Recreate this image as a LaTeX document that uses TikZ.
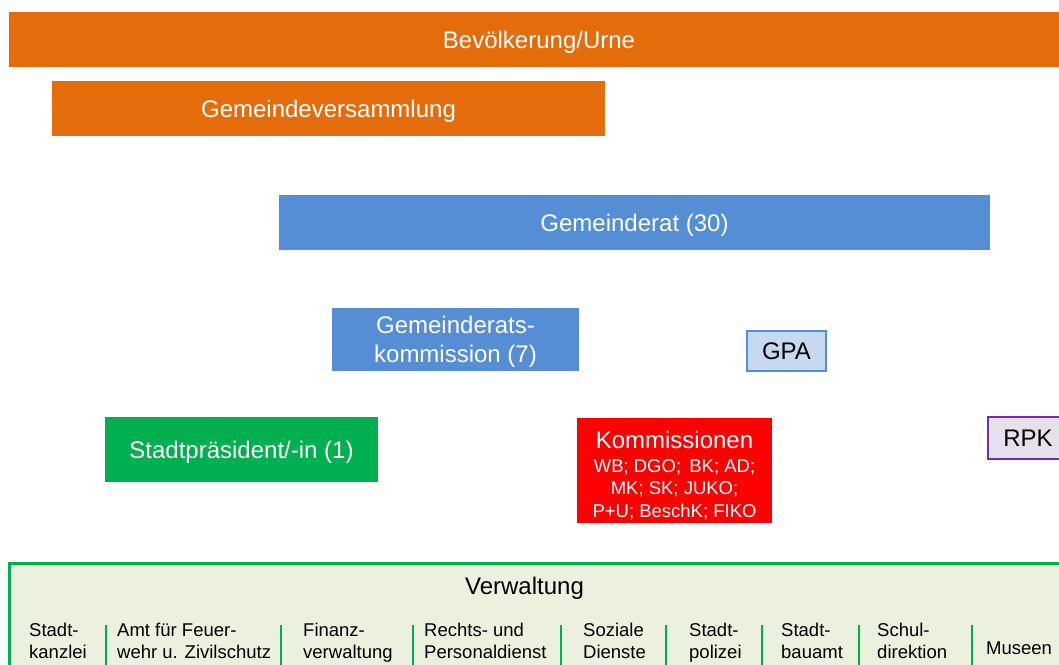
\documentclass[tikz,border=0pt]{standalone}
\usepackage{fontspec}
\setmainfont{Liberation Sans}
\definecolor{orangebox}{HTML}{E46C0A}
\definecolor{bluebox}{HTML}{558ED5}
\definecolor{lightblue}{HTML}{C6D9F1}
\definecolor{greenbox}{HTML}{00B050}
\definecolor{lightgreen}{HTML}{EBF1DE}
\definecolor{lightpurple}{HTML}{E6E0EC}
\definecolor{purpleline}{HTML}{7030A0}
\tikzset{
  organ/.style={rectangle,inner sep=0pt,align=center,text=white,text depth=0pt,
    font=\fontsize{24}{29}\selectfont},
  dept/.style={inner sep=0pt,align=left,anchor=north west,
    font=\fontsize{18.5}{22}\selectfont},
  sepline/.style={greenbox,line width=2pt}
}
\begin{document}
\begin{tikzpicture}[x=1pt,y=-1pt]
      \clip (0,0) rectangle (1059,664);

      \path (539,39.5)  node[organ,fill=orangebox,minimum width=1060,minimum height=55] (urne) {Bevölkerung/Urne};
      \path (328.5,108.5) node[organ,fill=orangebox,minimum width=553,minimum height=55] (gv) {Gemeindeversammlung};
      \path (634.5,222.5) node[organ,fill=bluebox,minimum width=711,minimum height=55] (gr) {Gemeinderat (30)};
      \path (455.5,339.5) node[organ,fill=bluebox,minimum width=247,minimum height=63] (grk) {Gemeinderats-\\kommission (7)};
      \path (786.5,351) node[organ,text=black,fill=lightblue,draw=bluebox,line width=2pt,minimum width=79,minimum height=40] (gpa) {GPA};
      \path (241.5,449.5) node[organ,fill=greenbox,minimum width=273,minimum height=65] (sp) {Stadtpräsident/-in (1)};
      \path (674.5,470.5) node[organ,fill=red,minimum width=195,minimum height=105] (komm) {};
      \path ([yshift=-4pt]komm.center) node[organ,font=\fontsize{18.5}{22.5}\selectfont] (kommtext)
        {{\fontsize{24}{26}\selectfont Kommissionen}\\[1pt]
         WB; DGO;\, BK; AD;\\ MK; SK; JUKO;\\ P+U; BeschK; FIKO};
      \path (1028,438) node[organ,text=black,fill=lightpurple,draw=purpleline,line width=2pt,minimum width=80,minimum height=42] (rpk) {RPK};

      % Verwaltung
      \path (539,633) node[rectangle,fill=lightgreen,draw=greenbox,line width=3pt,minimum width=1060,minimum height=140] (verw) {};
      \path (524.5,586) node[organ,text=black] (verwtitle) {Verwaltung};

      \path (29,623)  node[dept] (kanzlei) {Stadt-\\kanzlei};
      \path (117,623) node[dept] (feuer)   {Amt für Feuer-\\wehr u. Zivilschutz};
      \path (303,623) node[dept] (finanz)  {Finanz-\\verwaltung};
      \path (424,623) node[dept] (recht)   {Rechts- und\\Personaldienst};
      \path (583,623) node[dept] (sozial)  {Soziale\\Dienste};
      \path (689,623) node[dept] (polizei) {Stadt-\\polizei};
      \path (781,623) node[dept] (bauamt)  {Stadt-\\bauamt};
      \path (877,623) node[dept] (schule)  {Schul-\\direktion};
      \path (986,648) node[dept,anchor=west] (museen) {Museen};

      \foreach \x in {106,281,413,561,666,762,859,972}
        \draw[sepline] (\x,625) -- (\x,670); %separators

    \end{tikzpicture}
\end{document}
